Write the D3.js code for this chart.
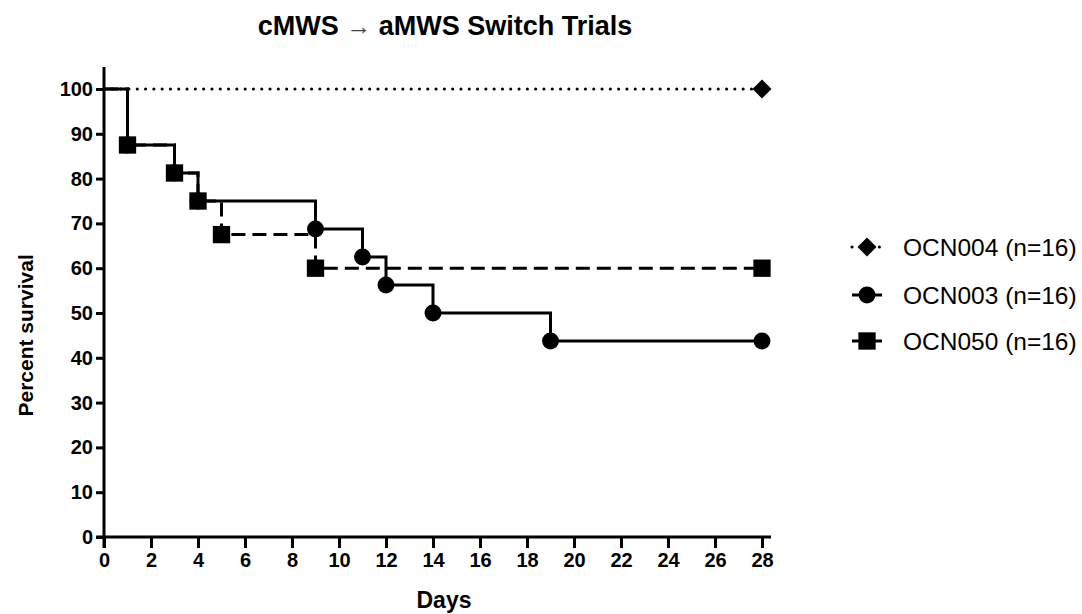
<!DOCTYPE html>
<html lang="en">
<head>
    <meta charset="UTF-8">
    <title>cMWS to aMWS Switch Trials</title>
    <script src="https://cdn.jsdelivr.net/npm/d3@7/dist/d3.min.js"></script>
    <style>
        body { margin: 0; background: #ffffff; }
        text { font-family: "Liberation Sans", Arial, sans-serif; fill: #000; }
    </style>
</head>
<body>
    <div id="canvas"></div>

    <script>
        // chart data
        const xTicks = [0, 2, 4, 6, 8, 10, 12, 14, 16, 18, 20, 22, 24, 26, 28];
        const yTicks = [0, 10, 20, 30, 40, 50, 60, 70, 80, 90, 100];

        const ocn004Days = [0, 28];
        const ocn004Surv = [100, 100];

        const ocn003Days = [0, 1, 3, 4, 9, 11, 12, 14, 19, 28];
        const ocn003Surv = [100, 87.5, 81.25, 75, 68.75, 62.5, 56.25, 50, 43.75, 43.75];

        const ocn050Days = [0, 1, 3, 4, 5, 9, 28];
        const ocn050Surv = [100, 87.5, 81.25, 75, 67.5, 60, 60];

        const seriesNames = ['OCN004 (n=16)', 'OCN003 (n=16)', 'OCN050 (n=16)'];
    </script>

    <script>
        const width = 1082;
        const height = 614;

        const svg = d3.select('#canvas')
            .append('svg')
            .attr('width', width)
            .attr('height', height);

        const x = d3.scaleLinear().domain([0, 28]).range([104, 762]);
        const y = d3.scaleLinear().domain([0, 100]).range([537, 89]);

        const toPoints = (days, surv) => days.map((d, i) => ({ day: d, surv: surv[i] }));

        const series = [
            { name: seriesNames[0], pts: toPoints(ocn004Days, ocn004Surv), dash: '0.1 8.2', cap: 'round', sym: 'diamond', marks: [1] },
            { name: seriesNames[1], pts: toPoints(ocn003Days, ocn003Surv), dash: null, cap: 'butt', sym: 'circle' },
            { name: seriesNames[2], pts: toPoints(ocn050Days, ocn050Surv), dash: '14 7', cap: 'butt', sym: 'square' }
        ];

        const symbols = {
            diamond: d3.symbol().type(d3.symbolSquare).size(180),   // rotated 45deg when drawn
            circle: d3.symbol().type(d3.symbolCircle).size(225),
            square: d3.symbol().type(d3.symbolSquare).size(300)
        };
        const symRotate = (sym) => sym === 'diamond' ? ' rotate(45)' : '';

        // title
        const title = svg.append('text')
            .attr('x', 445)
            .attr('y', 35)
            .attr('text-anchor', 'middle')
            .style('font-size', '27px')
            .style('font-weight', 'bold');
        title.append('tspan').text('cMWS ');
        title.append('tspan').text('→').style('font-weight', 'normal').style('font-size', '25px').style('fill', '#444');
        title.append('tspan').text(' aMWS Switch Trials');

        // axes
        const yAxis = svg.append('g')
            .attr('transform', `translate(${x(0)},0)`)
            .call(d3.axisLeft(y).tickValues(yTicks).tickSize(8).tickPadding(3));

        const xAxis = svg.append('g')
            .attr('transform', `translate(0,${y(0)})`)
            .call(d3.axisBottom(x).tickValues(xTicks).tickSize(11).tickPadding(5));

        for (const ax of [yAxis, xAxis]) {
            ax.select('.domain').remove();
            ax.selectAll('.tick line').attr('stroke', '#000').attr('stroke-width', 3);
            ax.selectAll('.tick text')
                .style('font-size', '20px')
                .style('font-weight', 'bold')
                .style('font-family', '"Liberation Sans", Arial, sans-serif');
        }

        svg.append('line')
            .attr('x1', x(0)).attr('x2', x(0))
            .attr('y1', y(100) - 22).attr('y2', y(0) + 11)
            .attr('stroke', '#000').attr('stroke-width', 3);

        svg.append('line')
            .attr('x1', x(0) - 8).attr('x2', x(28) + 9)
            .attr('y1', y(0)).attr('y2', y(0))
            .attr('stroke', '#000').attr('stroke-width', 3);

        // axis titles
        svg.append('text')
            .attr('x', 444)
            .attr('y', 608)
            .attr('text-anchor', 'middle')
            .style('font-size', '23px')
            .style('font-weight', 'bold')
            .text('Days');

        svg.append('text')
            .attr('transform', `translate(33,${y(45)}) rotate(-90)`)
            .attr('text-anchor', 'middle')
            .style('font-size', '21px')
            .style('font-weight', 'bold')
            .text('Percent survival');

        // step lines
        const step = d3.line()
            .x((d) => x(d.day))
            .y((d) => y(d.surv))
            .curve(d3.curveStepAfter);

        // solid first, then dashed, then dotted on top
        const drawOrder = [series[1], series[2], series[0]];

        for (const s of drawOrder) {
            svg.append('path')
                .datum(s.pts)
                .attr('d', step)
                .attr('fill', 'none')
                .attr('stroke', '#000')
                .attr('stroke-width', 3)
                .attr('stroke-linecap', s.cap)
                .attr('stroke-dasharray', s.dash);
        }

        for (const s of drawOrder) {
            const marked = s.marks ? s.marks.map((i) => s.pts[i]) : s.pts.slice(1);
            svg.selectAll(null)
                .data(marked)
                .enter()
                .append('path')
                .attr('transform', (d) => `translate(${x(d.day)},${y(d.surv)})` + symRotate(s.sym))
                .attr('d', symbols[s.sym]())
                .attr('fill', '#000');
        }

        // legend
        const legend = svg.append('g');
        const legendY = [247, 295, 341];

        series.forEach((s, i) => {
            const row = legend.append('g').attr('transform', `translate(0,${legendY[i]})`);

            row.append('line')
                .attr('x1', 852).attr('x2', 882)
                .attr('stroke', '#000')
                .attr('stroke-width', 3)
                .attr('stroke-linecap', s.cap)
                .attr('stroke-dasharray', s.sym === 'diamond' ? '0.1 9' : null);

            row.append('path')
                .attr('transform', 'translate(867,0)' + symRotate(s.sym))
                .attr('d', symbols[s.sym]())
                .attr('fill', '#000');

            row.append('text')
                .attr('x', 903)
                .attr('y', 9)
                .style('font-size', '24.5px')
                .text(s.name);
        });
    </script>
</body>
</html>
